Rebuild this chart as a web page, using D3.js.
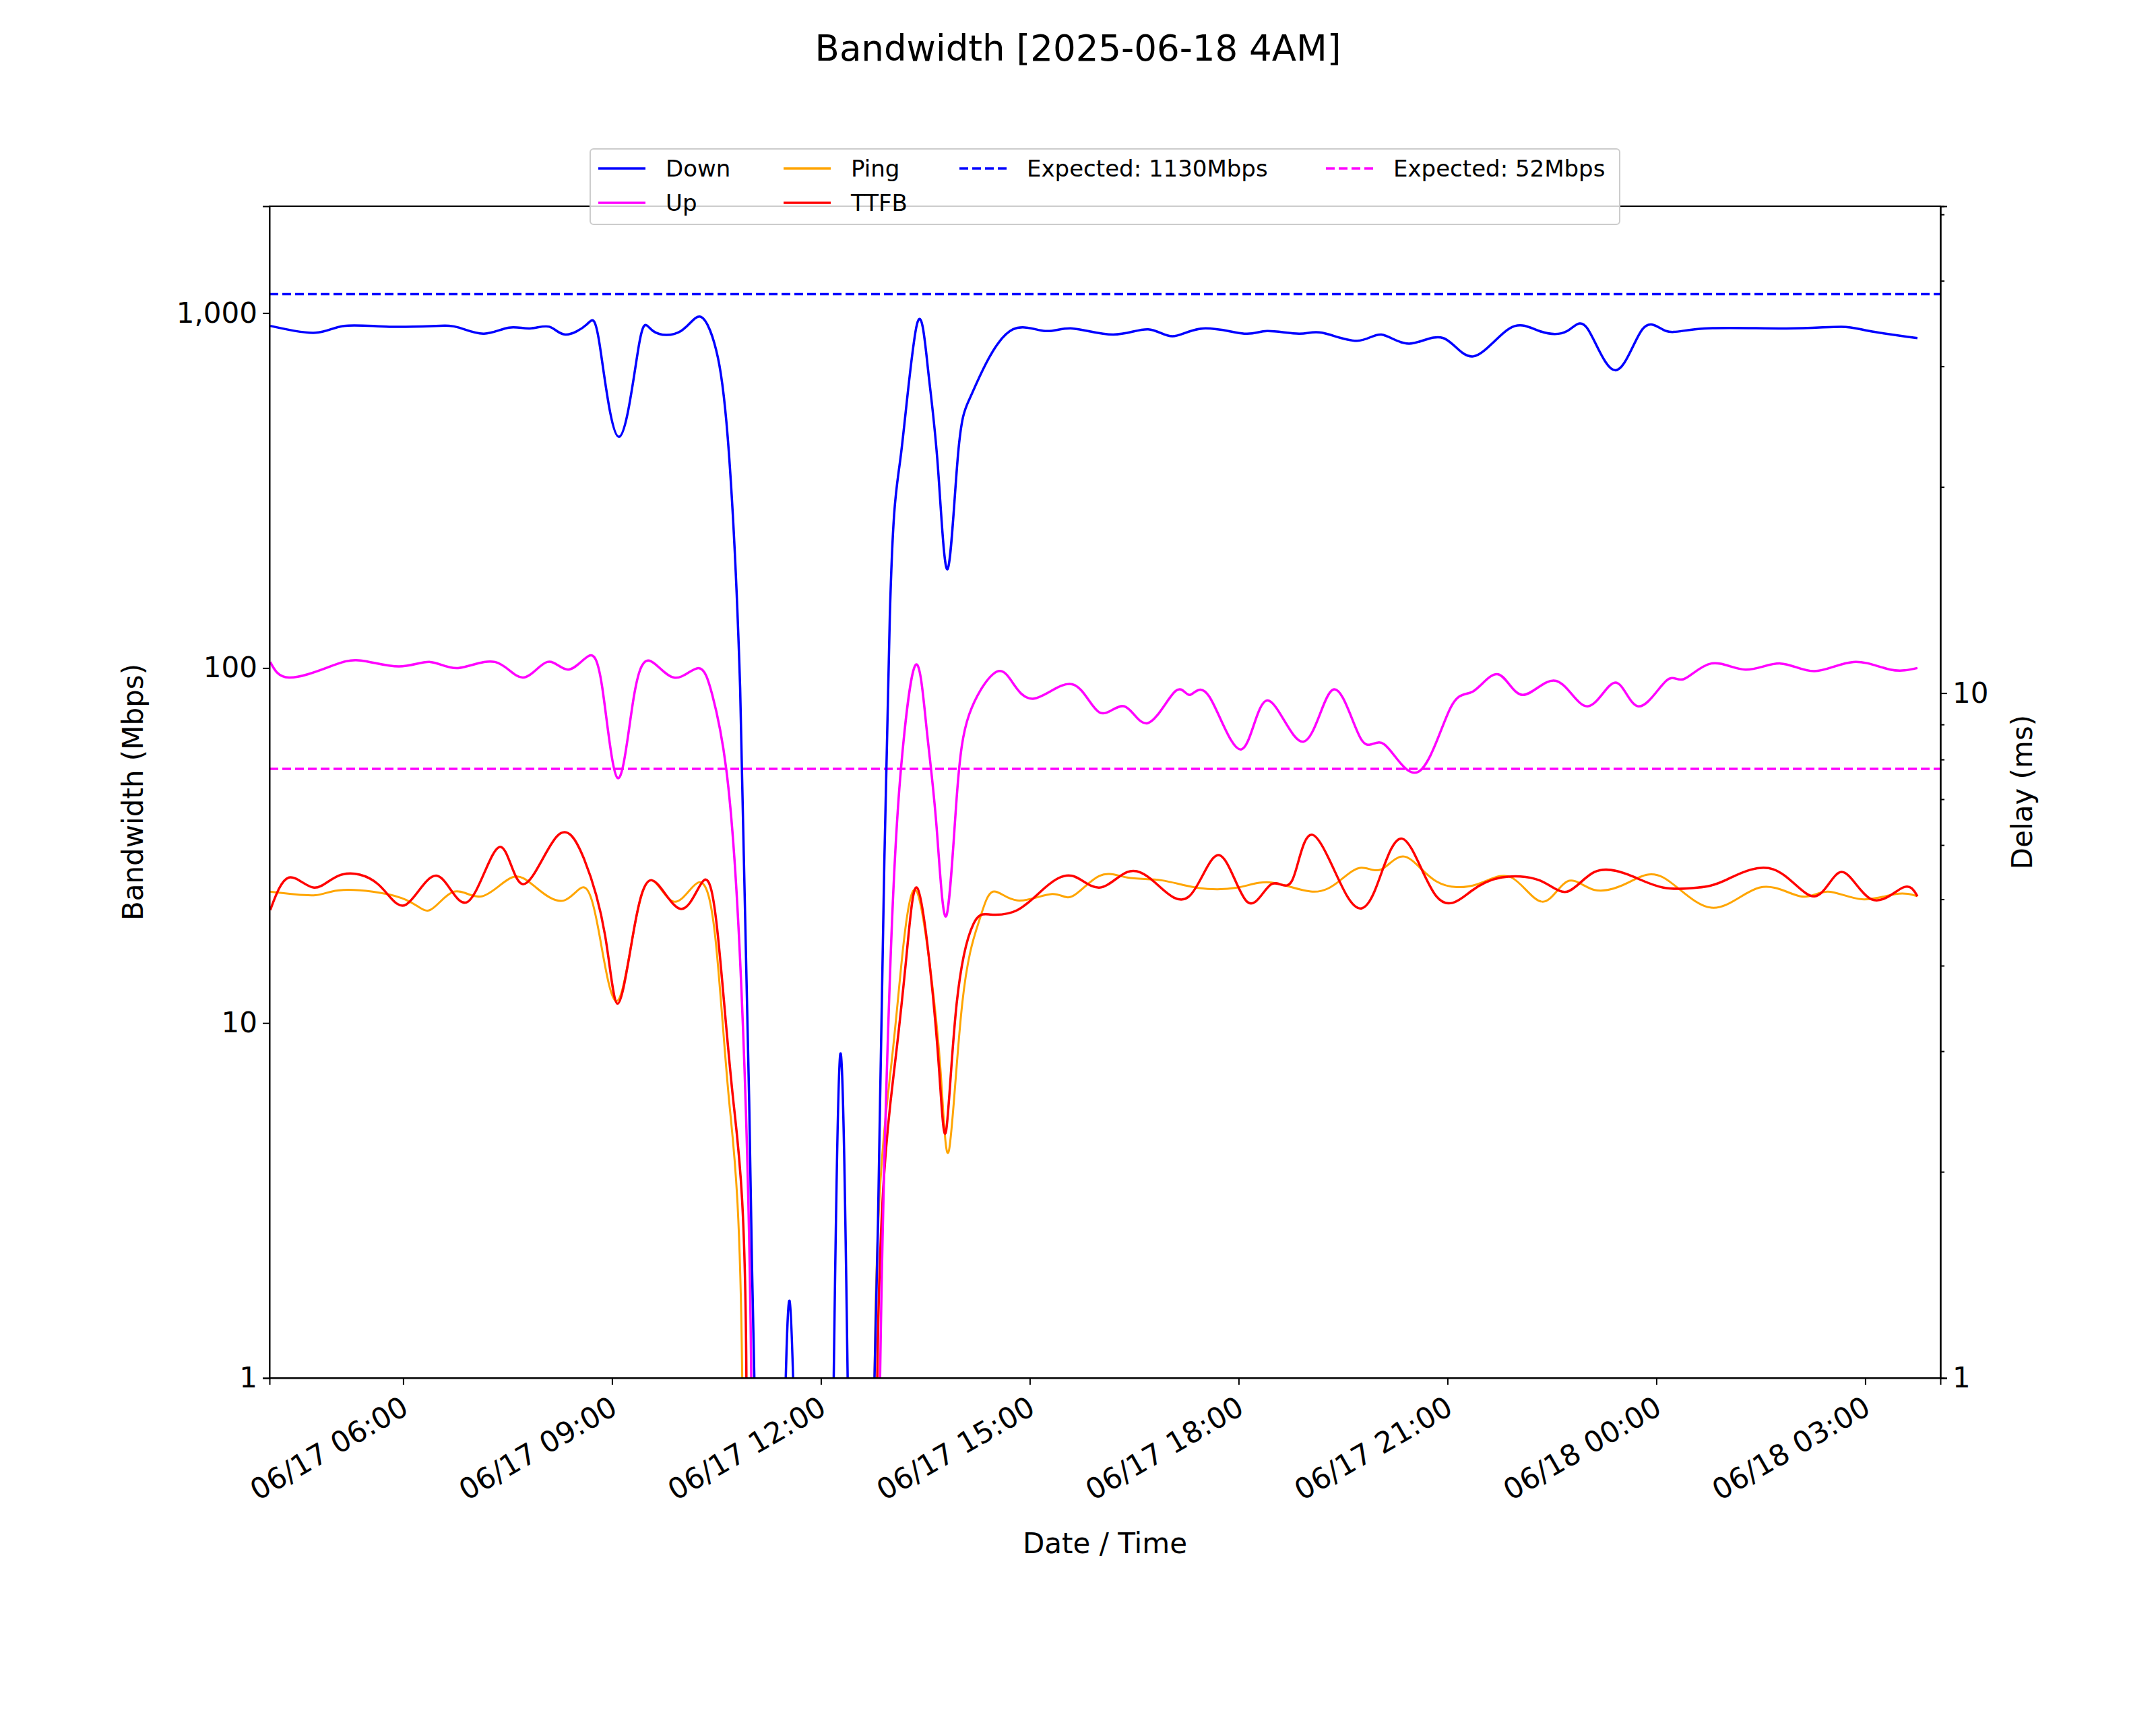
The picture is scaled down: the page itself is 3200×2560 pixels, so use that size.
<!DOCTYPE html>
<html>
<head>
<meta charset="utf-8">
<script src="https://cdn.jsdelivr.net/npm/d3@7"></script>
<style>
body { margin: 0; background: #fff; }
text { font-family: "DejaVu Sans", sans-serif; }
</style>
</head>
<body>
<svg id="chart" width="3200" height="2560"></svg>
<script>
// hours since 06/17 00:00
var downT = [4.09,4.74,5.15,5.8,6.47,6.8,7.16,7.52,7.82,8.1,8.33,8.64,8.82,9.1,9.39,9.59,9.99,10.28,10.52,10.68,10.84,10.97,11.1,11.3,11.45,11.55,11.65,11.8,12.05,12.17,12.28,12.4,12.55,12.77,12.85,12.99,13.15,13.38,13.54,13.68,13.82,13.97,14.13,14.37,14.76,15.22,15.61,16.2,16.7,17.05,17.49,18.08,18.41,18.87,19.2,19.7,20.05,20.45,20.94,21.37,21.89,22.32,22.72,23.01,23.41,23.8,24.14,24.69,25.87,26.66,27.06,27.75];
var downV = [920,880,920,915,920,910,875,910,905,915,870,930,820,448,820,890,890,975,750,400,88,6,0.3,0.05,0.4,1.65,0.4,0.05,0.05,0.6,8.2,0.6,0.05,1,6,140,400,930,690,370,190,400,570,720,900,890,905,870,900,860,905,875,890,875,880,835,870,820,850,755,905,890,890,905,690,900,890,905,905,915,890,850];

var upT = [4.09,4.36,4.95,5.39,5.94,6.39,6.79,7.32,7.72,8.07,8.37,8.66,8.86,9.08,9.3,9.53,9.89,10.24,10.44,10.64,10.84,11.0,11.3,12.5,12.85,13.0,13.15,13.36,13.52,13.66,13.8,13.95,14.13,14.47,14.72,15.06,15.61,16.0,16.36,16.7,17.09,17.3,17.58,18.04,18.41,18.93,19.36,19.76,20.09,20.58,21.04,21.37,21.73,22.08,22.56,23.01,23.41,23.74,24.14,24.39,24.79,25.28,25.78,26.27,26.83,27.36,27.75];
var upV = [104,94,101,105,101,104,100,104,94,104,99,108,88,49,80,105,94,100,84,52,15,1,0.05,0.05,1,15,52,102,67,36,20,43,74,96,93,82,90,75,78,70,86,84,83,59,81,62,87,63,61,51,77,86,96,84,92,78,91,78,92,93,103,99,103,98,104,99,100];

var pingT = [4.09,4.74,5.15,5.98,6.38,6.73,7.13,7.56,7.91,8.31,8.61,8.82,9.06,9.3,9.55,9.89,10.24,10.48,10.68,10.87,11.2,12.5,12.77,13.0,13.18,13.36,13.56,13.72,13.84,14.03,14.27,14.47,14.82,15.32,15.61,16.0,16.4,16.89,17.39,17.98,18.47,19.06,19.46,19.76,20.05,20.39,20.84,21.43,21.92,22.36,22.72,23.11,23.6,24.1,24.79,25.48,26.07,26.46,26.95,27.44,27.75];
var pingV = [5.13,5.07,5.16,5.02,4.82,5.13,5.05,5.38,5.2,4.98,5.2,4.43,3.55,4.43,5.33,4.96,5.29,4.43,2.55,1,0.1,0.1,1,2.8,4.24,5.16,4.04,2.8,2.15,3.52,4.64,5.13,4.98,5.09,5.05,5.41,5.38,5.33,5.2,5.2,5.29,5.13,5.33,5.56,5.53,5.77,5.31,5.26,5.38,4.96,5.31,5.16,5.29,5.38,4.86,5.2,5.05,5.13,5.0,5.09,5.05];

var ttfbT = [4.09,4.36,4.72,5.11,5.64,6.04,6.49,6.93,7.38,7.72,8.21,8.6,8.9,9.08,9.3,9.57,9.99,10.32,10.52,10.74,10.93,11.2,12.5,12.81,13.05,13.24,13.38,13.56,13.7,13.8,13.95,14.19,14.43,14.82,15.22,15.61,16.0,16.4,16.8,17.29,17.72,18.12,18.47,18.77,19.06,19.56,19.95,20.35,20.84,21.33,21.77,22.32,22.72,23.11,23.6,24.1,24.59,24.99,25.68,26.27,26.66,27.09,27.54,27.75];
var ttfbV = [4.82,5.38,5.2,5.43,5.26,4.91,5.41,4.96,5.96,5.26,6.18,5.72,4.43,3.52,4.43,5.33,4.84,5.33,4.43,2.55,1,0.1,0.1,1,2.8,4.24,5.2,4.04,2.8,2.3,3.52,4.6,4.75,4.82,5.2,5.41,5.2,5.48,5.29,5.05,5.8,4.96,5.26,5.33,6.21,5.05,5.13,6.13,5.05,5.13,5.38,5.33,5.13,5.48,5.43,5.2,5.2,5.33,5.53,5.05,5.48,5.0,5.2,5.05];

var expectedDown = 1130, expectedUp = 52;
var bwTicks = [1, 10, 100, 1000];
var delayTicks = [1, 10];
var delayMinor = [2,3,4,5,6,7,8,9,20,30,40,50];
var xTickHours = [6, 9, 12, 15, 18, 21, 24, 27];

var svg = d3.select("#chart");
var L = 400, R = 2880, T = 306, B = 2045;
var base = new Date(2025, 5, 17, 0, 0);
function hr(h) { return new Date(base.getTime() + h * 3600000); }

var x = d3.scaleTime().domain([hr(4.08), hr(28.08)]).range([L, R]);
var yL = d3.scaleLog().domain([1, 2000]).range([B, T]);
var yR = d3.scaleLog().domain([1, 51.4]).range([B, T]);

svg.append("defs").append("clipPath").attr("id", "clip")
  .append("rect").attr("x", L).attr("y", T).attr("width", R - L).attr("height", B - T);

var g = svg.append("g").attr("clip-path", "url(#clip)");

function draw(ts, vs, y, color, w) {
  var pts = ts.map(function(t, i) { return [x(hr(t)), y(vs[i])]; });
  g.append("path")
    .attr("d", d3.line().curve(d3.curveNatural)(pts))
    .attr("fill", "none").attr("stroke", color).attr("stroke-width", w);
}
function hline(v, color) {
  g.append("line").attr("x1", L).attr("x2", R)
    .attr("y1", yL(v)).attr("y2", yL(v))
    .attr("stroke", color).attr("stroke-width", 3.5).attr("stroke-dasharray", "13,6");
}
hline(expectedDown, "#0000ff");
hline(expectedUp, "#ff00ff");
draw(pingT, pingV, yR, "orange", 3);
draw(ttfbT, ttfbV, yR, "red", 3.5);
draw(upT, upV, yL, "#ff00ff", 3.5);
draw(downT, downV, yL, "#0000ff", 3.5);

// axes
var fmt = d3.format(",");
var ax = svg.append("g").attr("transform", "translate(0," + B + ")")
  .call(d3.axisBottom(x).tickValues(xTickHours.map(hr)).tickFormat(d3.timeFormat("%m/%d %H:%M")).tickSize(10));
ax.selectAll("text").attr("font-size", 43).attr("text-anchor", "end")
  .attr("y", 0).attr("dy", "0.75em").attr("transform", "translate(-6,24) rotate(-30)");

var al = svg.append("g").attr("transform", "translate(" + L + ",0)")
  .call(d3.axisLeft(yL).tickValues(bwTicks).tickFormat(fmt).tickSize(10).tickPadding(8));
al.selectAll("text").attr("font-size", 42);

var ar = svg.append("g").attr("transform", "translate(" + R + ",0)")
  .call(d3.axisRight(yR).tickValues(delayTicks).tickFormat(d3.format("d")).tickSize(10).tickPadding(8));
ar.selectAll("text").attr("font-size", 42);
svg.append("g").attr("transform", "translate(" + R + ",0)")
  .call(d3.axisRight(yR).tickValues(delayMinor).tickFormat("").tickSize(6));

svg.selectAll(".domain").attr("stroke", "#000").attr("stroke-width", 2);
svg.selectAll(".tick line").attr("stroke-width", 2);
svg.append("rect").attr("x", L).attr("y", T).attr("width", R - L).attr("height", B - T)
  .attr("fill", "none").attr("stroke", "#000").attr("stroke-width", 2);

// labels
svg.append("text").attr("x", 1600).attr("y", 90).attr("text-anchor", "middle").attr("font-size", 53)
  .text("Bandwidth [2025-06-18 4AM]");
svg.append("text").attr("x", 1640).attr("y", 2305).attr("text-anchor", "middle").attr("font-size", 42)
  .text("Date / Time");
svg.append("text").attr("transform", "translate(212," + ((T + B) / 2) + ") rotate(-90)")
  .attr("text-anchor", "middle").attr("font-size", 42).text("Bandwidth (Mbps)");
svg.append("text").attr("transform", "translate(3016," + ((T + B) / 2) + ") rotate(-90)")
  .attr("text-anchor", "middle").attr("font-size", 42).text("Delay (ms)");

// legend
var leg = [
  {name: "Down", c: "#0000ff", x: 888, y: 250},
  {name: "Up", c: "#ff00ff", x: 888, y: 301},
  {name: "Ping", c: "orange", x: 1163, y: 250},
  {name: "TTFB", c: "red", x: 1163, y: 301},
  {name: "Expected: 1130Mbps", c: "#0000ff", x: 1424, y: 250, dash: true},
  {name: "Expected: 52Mbps", c: "#ff00ff", x: 1968, y: 250, dash: true}
];
svg.append("rect").attr("x", 876).attr("y", 221).attr("width", 1528).attr("height", 112)
  .attr("rx", 5).attr("fill", "#fff").attr("fill-opacity", 0.8).attr("stroke", "#ccc").attr("stroke-width", 2);
leg.forEach(function(d) {
  svg.append("line").attr("x1", d.x).attr("x2", d.x + 70).attr("y1", d.y).attr("y2", d.y)
    .attr("stroke", d.c).attr("stroke-width", 3.5).attr("stroke-dasharray", d.dash ? "13,6" : null);
  svg.append("text").attr("x", d.x + 100).attr("y", d.y + 12).attr("font-size", 34).text(d.name);
});
</script>
</body>
</html>
